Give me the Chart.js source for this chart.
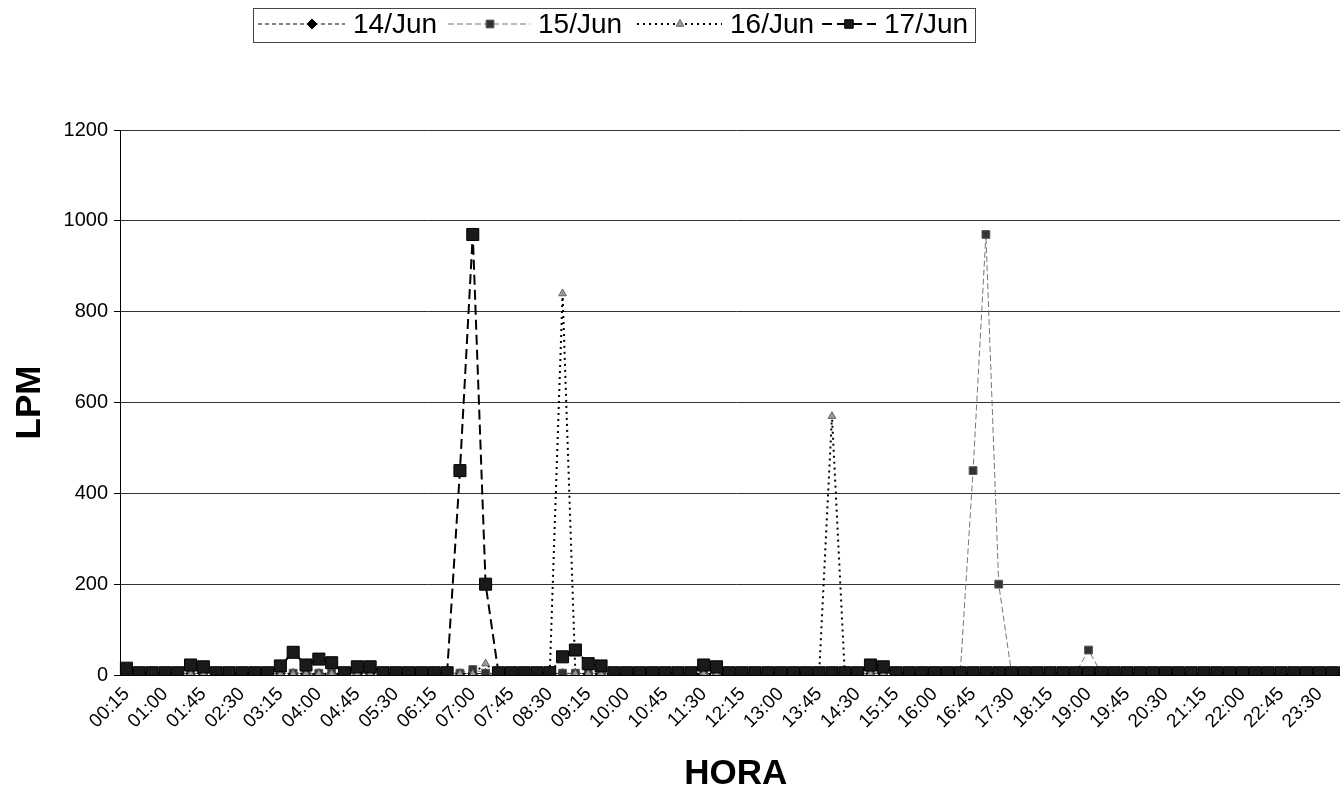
<!DOCTYPE html>
<html><head><meta charset="utf-8">
<script src="https://cdn.jsdelivr.net/npm/chart.js@4.4.1/dist/chart.umd.min.js"></script>
<style>
html,body{margin:0;padding:0;background:#fff;overflow:hidden;width:1340px;height:800px;}
#wrap{position:relative;width:1361px;height:800px;}
</style></head><body>
<div id="wrap"><canvas id="c" width="1361" height="800"></canvas></div>
<script>
const labels = ["00:15","00:30","00:45","01:00","01:15","01:30","01:45","02:00","02:15","02:30","02:45","03:00",
"03:15","03:30","03:45","04:00","04:15","04:30","04:45","05:00","05:15","05:30","05:45","06:00",
"06:15","06:30","06:45","07:00","07:15","07:30","07:45","08:00","08:15","08:30","08:45","09:00",
"09:15","09:30","09:45","10:00","10:15","10:30","10:45","11:00","11:15","11:30","11:45","12:00",
"12:15","12:30","12:45","13:00","13:15","13:30","13:45","14:00","14:15","14:30","14:45","15:00",
"15:15","15:30","15:45","16:00","16:15","16:30","16:45","17:00","17:15","17:30","17:45","18:00",
"18:15","18:30","18:45","19:00","19:15","19:30","19:45","20:00","20:15","20:30","20:45","21:00",
"21:15","21:30","21:45","22:00","22:15","22:30","22:45","23:00","23:15","23:30","23:45","00:00"];

const seriesNames = ["14/Jun","15/Jun","16/Jun","17/Jun"];

const jun14 = [3,3,3,3,3,3,3,3,3,3,3,3,
 3,3,3,3,3,3,3,3,3,3,3,3,
 3,3,3,3,3,2,3,3,3,3,3,3,
 3,3,3,3,3,3,3,3,3,3,3,3,
 3,3,3,3,3,3,3,3,3,3,3,3,
 3,3,3,3,3,3,3,3,3,3,3,3,
 3,3,3,3,3,3,3,3,3,3,3,3,
 3,3,3,3,3,3,3,3,3,3,3,3];

const jun15 = [4,4,4,4,4,4,4,4,4,4,4,4,
 4,4,4,4,4,4,4,4,4,4,4,4,
 4,4,4,12,4,4,4,4,4,4,4,4,
 4,4,4,4,4,4,4,4,4,4,4,4,
 4,4,4,4,4,4,4,4,4,4,4,4,
 4,4,4,4,4,4,450,970,200,4,4,4,
 4,4,4,55,4,4,4,4,4,4,4,4,
 4,4,4,4,4,4,4,4,4,4,4,4];

const jun16 = [2,2,2,2,2,2,2,2,2,2,2,2,
 2,2,2,2,2,2,2,2,2,2,2,2,
 2,2,2,2,25,2,2,2,2,2,840,2,
 2,2,2,2,2,2,2,2,2,2,2,2,
 2,2,2,2,2,2,2,570,2,2,2,2,
 2,2,2,2,2,2,2,2,2,2,2,2,
 2,2,2,2,2,2,2,2,2,2,2,2,
 2,2,2,2,2,2,2,2,2,2,2,2];

const jun17 = [15,5,5,5,5,22,18,5,5,5,5,5,
 20,50,22,35,27,5,18,18,5,5,5,5,
 5,5,450,970,200,5,5,5,5,5,40,55,
 25,20,5,5,5,5,5,5,5,22,18,5,
 5,5,5,5,5,5,5,5,5,5,22,18,
 5,5,5,5,5,5,5,5,5,5,5,5,
 5,5,5,5,5,5,5,5,5,5,5,5,
 5,5,5,5,5,5,5,5,5,5,5,5];

const yTicks = [0,200,400,600,800,1000,1200];

const FONT = '"Liberation Sans", Arial, Helvetica, sans-serif';

const styles = [
  {line:'#000', width:1, dash:[4,3], point:'rectRot', r:5, fill:'#000', pb:'#000'},
  {line:'#777', width:1, dash:[6,3], point:'rect', r:5.5, fill:'#333', pb:'#555'},
  {line:'#000', width:2, dash:[2,4], point:'triangle', r:4.5, fill:'#999', pb:'#666'},
  {line:'#000', width:2, dash:[10,5], point:'rect', r:8.5, fill:'#1a1a1a', pb:'#000'}
];
const seriesData = [jun14, jun15, jun16, jun17];

const legendItems = [
  {x0:258, x1:345, mx:312, tx:353},
  {x0:448, x1:530, mx:490, tx:538},
  {x0:637, x1:722, mx:680, tx:730},
  {x0:822, x1:876, mx:849, tx:884}
];

const boxLegend = {
  id:'boxLegend',
  afterDraw(chart){
    const ctx = chart.ctx;
    ctx.save();
    ctx.strokeStyle = '#444'; ctx.lineWidth = 1; ctx.setLineDash([]);
    ctx.strokeRect(253.5, 8.5, 722, 34);
    const ly = 24;
    legendItems.forEach((it, i) => {
      const s = styles[i];
      ctx.strokeStyle = s.line; ctx.lineWidth = s.width; ctx.setLineDash(s.dash);
      ctx.beginPath(); ctx.moveTo(it.x0, ly); ctx.lineTo(it.x1, ly); ctx.stroke();
      ctx.setLineDash([]);
      ctx.fillStyle = s.fill; ctx.strokeStyle = s.pb; ctx.lineWidth = 1;
      const r = Math.min(s.r, 6);
      if (Chart.helpers && Chart.helpers.drawPoint) {
        Chart.helpers.drawPoint(ctx, {pointStyle:s.point, radius:r, rotation:0, borderWidth:1}, it.mx, ly);
      }
      ctx.fillStyle = '#000';
      ctx.font = '28px ' + FONT;
      ctx.textBaseline = 'middle'; ctx.textAlign = 'left';
      ctx.fillText(seriesNames[i], it.tx, ly + 1);
    });
    ctx.restore();
  }
};

const datasets = seriesNames.map((n, i) => ({
  label: n,
  data: seriesData[i],
  borderColor: styles[i].line,
  borderWidth: styles[i].width,
  borderDash: styles[i].dash,
  pointStyle: styles[i].point,
  pointRadius: styles[i].r,
  pointBackgroundColor: styles[i].fill,
  pointBorderColor: styles[i].pb,
  pointBorderWidth: 1,
  fill: false,
  tension: 0,
  order: 4 - i
}));

new Chart(document.getElementById('c').getContext('2d'), {
  type: 'line',
  data: { labels: labels, datasets: datasets },
  options: {
    responsive: false,
    animation: false,
    layout: { padding: { top: 130, left: 0, right: 0, bottom: 0 } },
    plugins: { legend: { display: false }, tooltip: { enabled: false } },
    scales: {
      x: {
        offset: true,
        grid: { display: false, drawTicks: false },
        border: { display: true, color: '#000', width: 1 },
        ticks: {
          autoSkip: false, minRotation: 45, maxRotation: 45, padding: 8,
          color: '#000', font: { family: FONT, size: 19 },
          callback: (v, i) => (i % 3 === 0 ? labels[i] : '')
        },
        title: { display: true, text: 'HORA', color: '#000',
          font: { family: FONT, size: 35, weight: 'bold' }, padding: { top: 0, bottom: 5 } },
        afterFit: s => { s.height = 125; s.paddingLeft = 0; s.paddingRight = 0; }
      },
      y: {
        min: 0, max: 1200,
        afterBuildTicks: s => { s.ticks = yTicks.map(v => ({ value: v })); },
        ticks: { color: '#000', font: { family: FONT, size: 20 }, padding: 6,
          callback: v => String(v) },
        grid: { color: '#333', lineWidth: 1, drawTicks: true, tickLength: 6, tickColor: '#000' },
        border: { display: true, color: '#000', width: 1 },
        title: { display: true, text: 'LPM', color: '#000',
          font: { family: FONT, size: 35, weight: 'bold' }, padding: { top: 9, bottom: 0 } },
        afterFit: s => { s.width = 120; s.paddingTop = 0; s.paddingBottom = 0; }
      }
    }
  },
  plugins: [boxLegend]
});
</script>
</body></html>
